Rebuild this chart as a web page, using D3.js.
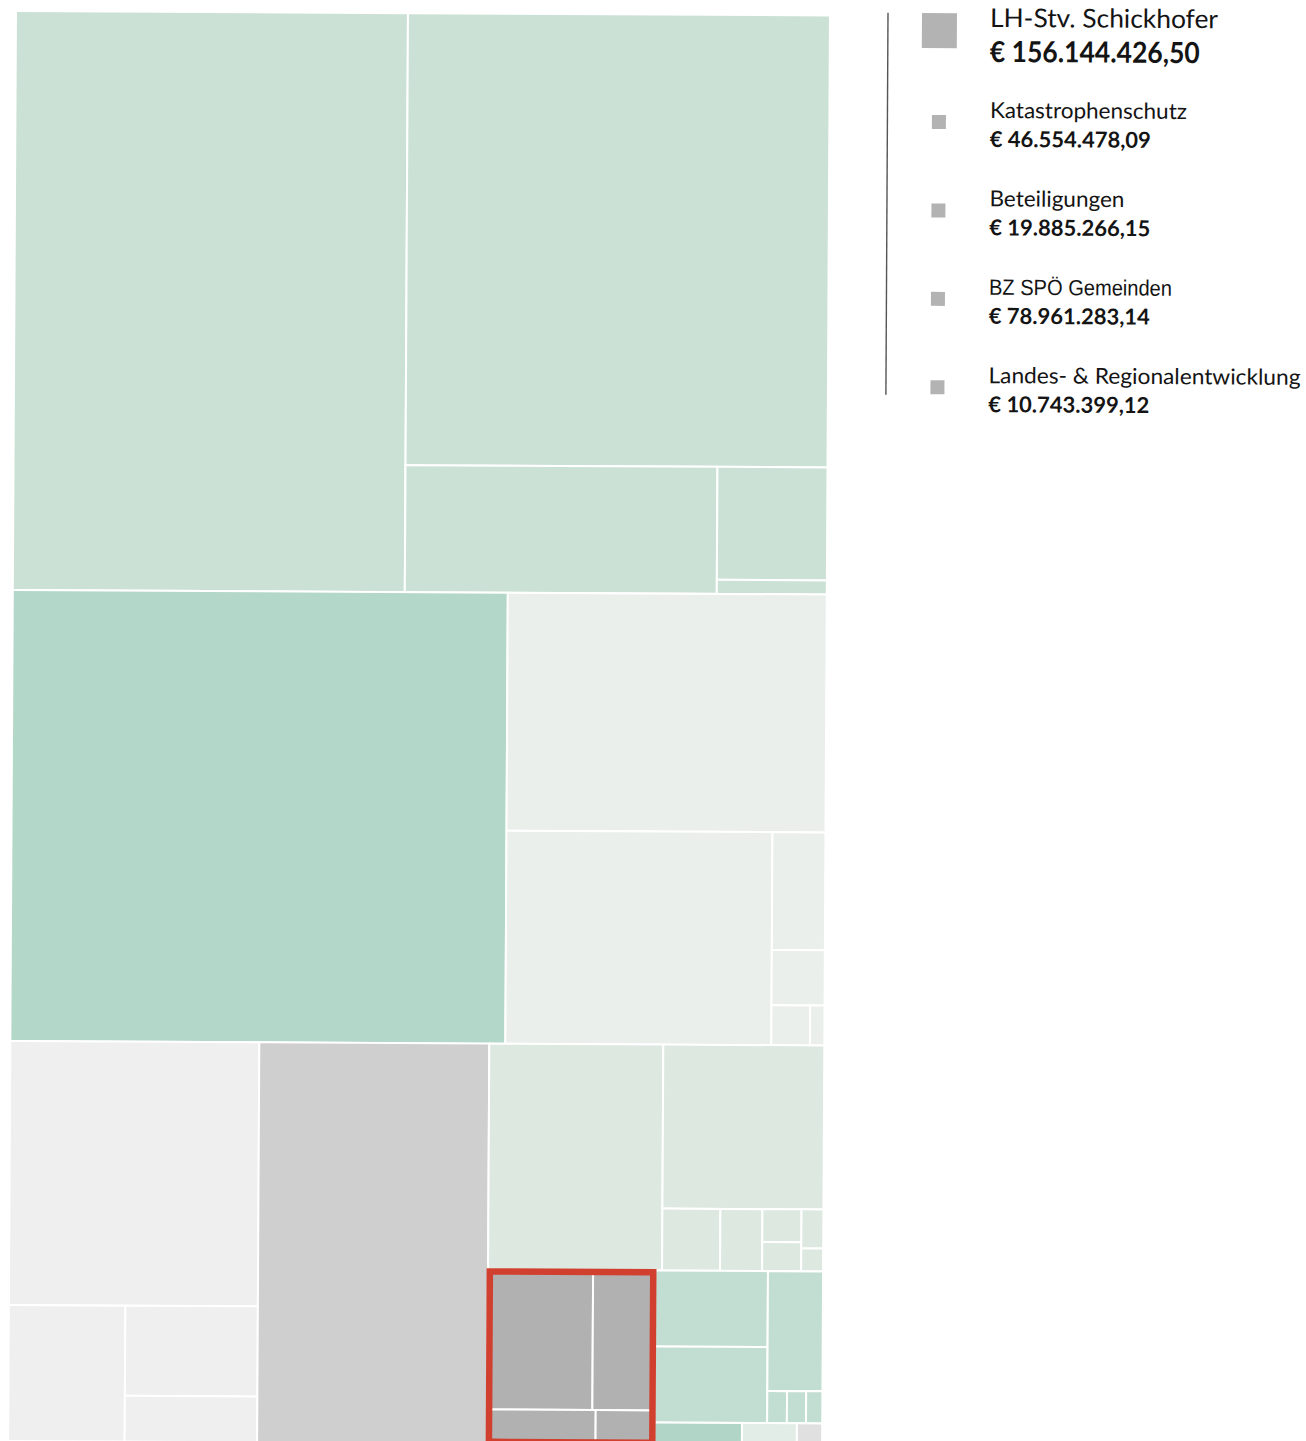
<!DOCTYPE html>
<html>
<head>
<meta charset="utf-8">
<script src="https://cdn.jsdelivr.net/npm/d3@7"></script>
<style>
  html, body { margin: 0; padding: 0; background: #fff; overflow: hidden; }
  svg { display: block; }
</style>
</head>
<body>
<div id="chart"></div>
<script>
// values in € millions, grouped by block of the treemap
var topValues = [1219.5, 1024.9, 212.9, 66.8, 8.3];
var midValues = [1199.5, 407.9, 304.4, 33.6, 15.7, 8.3, 3.1];
var greyValues = [353.2, 85.1, 64.1, 32.7];
var darkGreyValues = [494.3];
var paleValues = [211.3, 141.9, 19.3, 14.0, 6.9, 6.1, 4.6, 2.7];
var mintValues = [46.1, 46.1, 35.5, 3.4, 3.3, 2.8];
var lastRowValues = [10.4, 6.5, 3.0];

// highlighted group (exact amounts in €)
var schickhoferName = 'LH-Stv. Schickhofer';
var schickhoferItems = ['BZ SPÖ Gemeinden', 'Katastrophenschutz', 'Beteiligungen', 'Landes- & Regionalentwicklung'];
var schickhoferValues = [78961283.14, 46554478.09, 19885266.15, 10743399.12];
var legendOrder = ['Katastrophenschutz', 'Beteiligungen', 'BZ SPÖ Gemeinden', 'Landes- & Regionalentwicklung'];

(function () {
    var W = 1306, H = 1441;
    var mapW = 814, mapH = 1430;

    var de = d3.formatLocale({ decimal: ',', thousands: '.', grouping: [3], currency: ['€ ', ''] });
    var euro = function (v) { return '€ ' + de.format(',.2f')(v); };

    function leaf(v, color, name) { return { value: v, color: color, name: name }; }
    function hs() { return { dir: 'h', children: Array.prototype.slice.call(arguments) }; }
    function vs() { return { dir: 'v', children: Array.prototype.slice.call(arguments) }; }

    var c1 = '#cce1d6', c2 = '#b3d7c9', c3 = '#eaefeb', c4 = '#efefef', c5 = '#cfcfcf',
        c6 = '#dde8e0', c7 = '#b1b1b1', c8 = '#c2ddd1';
    var lastColors = ['#b1d6c8', '#e2ede7', '#e0e0e0'];

    var t = topValues, m = midValues, g = greyValues, p = paleValues, n = mintValues;
    var sm = schickhoferValues.map(function (d) { return d / 1e6; });

    var tree = vs(
        hs(leaf(t[0], c1), vs(leaf(t[1], c1), hs(leaf(t[2], c1), vs(leaf(t[3], c1), leaf(t[4], c1))))),
        hs(leaf(m[0], c2), vs(leaf(m[1], c3), hs(leaf(m[2], c3),
            vs(leaf(m[3], c3), leaf(m[4], c3), hs(leaf(m[5], c3), leaf(m[6], c3)))))),
        hs(
            vs(leaf(g[0], c4), hs(leaf(g[1], c4), vs(leaf(g[2], c4), leaf(g[3], c4)))),
            leaf(darkGreyValues[0], c5),
            vs(
                hs(leaf(p[0], c6), vs(leaf(p[1], c6), hs(leaf(p[2], c6), leaf(p[3], c6),
                    vs(leaf(p[4], c6), leaf(p[5], c6)), vs(leaf(p[6], c6), leaf(p[7], c6))))),
                hs(
                    Object.assign(vs(
                        hs(leaf(sm[0], c7, schickhoferItems[0]), leaf(sm[1], c7, schickhoferItems[1])),
                        hs(leaf(sm[2], c7, schickhoferItems[2]), leaf(sm[3], c7, schickhoferItems[3]))
                    ), { highlight: true }),
                    vs(
                        hs(vs(leaf(n[0], c8), leaf(n[1], c8)),
                           vs(leaf(n[2], c8), hs(leaf(n[3], c8), leaf(n[4], c8), leaf(n[5], c8)))),
                        hs.apply(null, lastRowValues.map(function (v, i) { return leaf(v, lastColors[i]); }))
                    )
                )
            )
        )
    );

    var root = d3.hierarchy(tree).sum(function (d) { return d.children ? 0 : d.value; });

    d3.treemap()
        .size([mapW, mapH])
        .tile(function (node, x0, y0, x1, y1) {
            (node.data.dir === 'v' ? d3.treemapSlice : d3.treemapDice)(node, x0, y0, x1, y1);
        })(root);

    var svg = d3.select('#chart').append('svg')
        .attr('width', W)
        .attr('height', H)
        .style('background', '#fff');

    // the source picture is a slightly tilted scan
    var g0 = svg.append('g').attr('transform', 'translate(16,11) rotate(0.315)');

    g0.selectAll('rect.cell')
        .data(root.leaves())
        .enter()
        .append('rect')
        .attr('class', 'cell')
        .attr('x', function (d) { return d.x0; })
        .attr('y', function (d) { return d.y0; })
        .attr('width', function (d) { return d.x1 - d.x0; })
        .attr('height', function (d) { return d.y1 - d.y0; })
        .attr('fill', function (d) { return d.data.color; })
        .attr('stroke', '#fff')
        .attr('stroke-width', 2);

    // red frame around the highlighted group
    var hl = root.descendants().filter(function (d) { return d.data.highlight; })[0];
    g0.append('rect')
        .attr('x', hl.x0 + 1.8)
        .attr('y', hl.y0 + 1.8)
        .attr('width', hl.x1 - hl.x0 - 3.6)
        .attr('height', hl.y1 - hl.y0 - 3.6)
        .attr('fill', 'none')
        .attr('stroke', '#d1402f')
        .attr('stroke-width', 6.5);

    // legend
    var lg = g0.append('g').attr('transform', 'translate(872,0)');
    lg.append('line')
        .attr('x1', 0).attr('x2', 0)
        .attr('y1', -3).attr('y2', 379)
        .attr('stroke', '#555')
        .attr('stroke-width', 1.4);

    lg.append('rect')
        .attr('x', 34).attr('y', -3)
        .attr('width', 35).attr('height', 35)
        .attr('fill', '#b3b3b3');

    function addText(x, y, str, size, weight, width, family) {
        lg.append('text')
            .attr('x', x).attr('y', y)
            .attr('font-family', family || 'Lato, "Open Sans", sans-serif')
            .attr('font-size', size)
            .attr('font-weight', weight)
            .attr('fill', '#141414')
            .attr('textLength', width)
            .attr('lengthAdjust', 'spacingAndGlyphs')
            .text(str);
    }

    var total = d3.sum(schickhoferValues);
    addText(102, 10.6, schickhoferName, 26, 400, 228);
    addText(102, 45.6, euro(total), 29, 700, 210);

    var widths = { 'Katastrophenschutz': 197, 'Beteiligungen': 135, 'BZ SPÖ Gemeinden': 183, 'Landes- & Regionalentwicklung': 312 };
    legendOrder.forEach(function (name, i) {
        var y = 101.6 + i * 88.4;
        var idx = schickhoferItems.indexOf(name);
        lg.append('rect')
            .attr('x', 44.5).attr('y', y - 2.6)
            .attr('width', 14).attr('height', 14)
            .attr('fill', '#b3b3b3');
        var fam = name === 'BZ SPÖ Gemeinden' ? '"Liberation Sans Narrow", "Liberation Sans", Arial, sans-serif' : null;
        addText(102.5, y, name, 22, 400, widths[name], fam);
        addText(102.5, y + 29, euro(schickhoferValues[idx]), 22, 700, 161);
    });
})();
</script>
</body>
</html>
